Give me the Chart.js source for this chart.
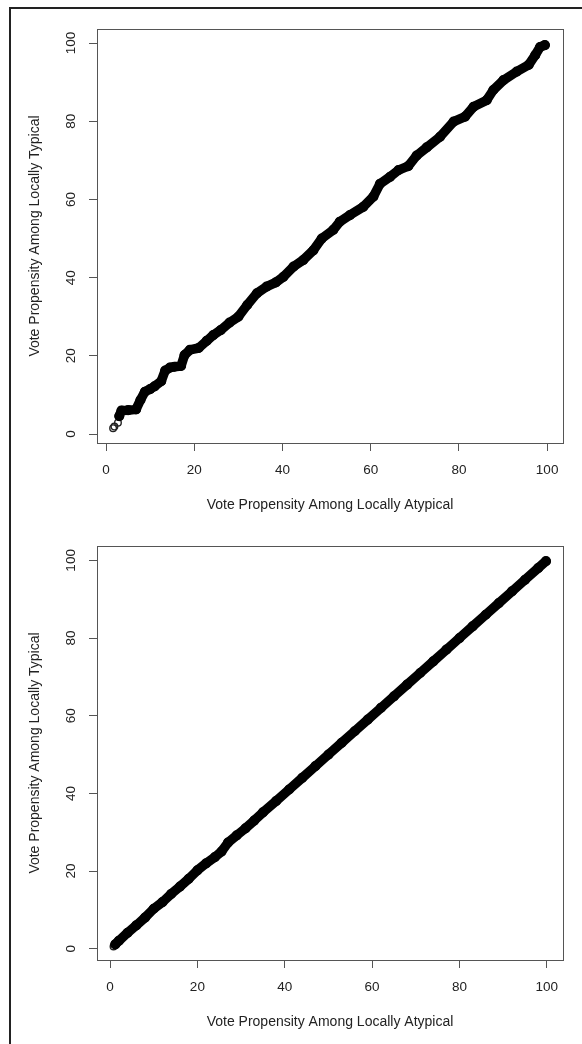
<!DOCTYPE html>
<html><head><meta charset="utf-8">
<script src="https://cdn.jsdelivr.net/npm/chart.js@4/dist/chart.umd.min.js"></script>
<style>
html,body{margin:0;padding:0;background:#fff;}
#wrap{position:relative;width:582px;height:1044px;overflow:hidden;background:#fff;}
#frame{position:absolute;left:9px;top:7px;width:700px;height:1200px;border-left:2px solid #222;border-top:2px solid #222;pointer-events:none;}
canvas{position:absolute;left:0;}
</style></head><body>
<div id="wrap">
<canvas id="c1" width="582" height="522" style="top:0"></canvas>
<canvas id="c2" width="582" height="522" style="top:522px"></canvas>
<div id="frame"></div>
</div>
<script>
// ---- data ----
const xTitle = "Vote Propensity Among Locally Atypical";
const yTitle = "Vote Propensity Among Locally Typical";
const tickValues = [0, 20, 40, 60, 80, 100];

// top panel: isolated first observations
const topStartX = [1.6, 1.9, 2.7];
const topStartY = [1.5, 1.9, 2.9];
// top panel: dense run of observations
const topX = [3.0, 3.5, 5.0, 6.8, 7.8, 8.8, 10.0, 11.0, 12.5, 13.4, 14.5, 15.5, 17.0, 17.8, 19.0, 21.0, 22.8, 24.3, 26.0, 28.0, 30.0, 32.0, 34.2, 36.4, 38.5, 40.2, 42.5, 44.7, 47.0, 48.9, 51.5, 53.0, 55.3, 58.3, 60.6, 62.1, 64.4, 66.3, 68.5, 70.4, 72.7, 75.7, 78.8, 81.4, 83.3, 86.3, 87.8, 90.1, 93.1, 95.8, 97.3, 98.4, 99.5];
const topY = [4.6, 6.0, 6.1, 6.3, 8.7, 10.8, 11.5, 12.2, 13.5, 16.2, 17.0, 17.2, 17.4, 20.2, 21.5, 22.0, 23.8, 25.3, 26.6, 28.5, 30.0, 33.0, 36.0, 37.7, 38.8, 40.2, 42.8, 44.5, 47.0, 50.0, 52.2, 54.3, 56.0, 58.1, 60.7, 64.0, 65.8, 67.5, 68.5, 71.2, 73.3, 76.0, 79.9, 81.2, 83.7, 85.4, 88.0, 90.5, 92.7, 94.4, 96.9, 99.0, 99.5];

// bottom panel
const bottomStartX = [0.8];
const bottomStartY = [0.6];
const bottomX = [1.2, 2, 4, 6, 8, 10, 12, 14, 16, 18, 20, 22, 24, 25.5, 27, 29, 31, 33, 35, 38, 41, 44, 47, 50, 53, 56, 59, 62, 65, 68, 71, 74, 77, 80, 83, 86, 89, 92, 95, 98, 99.8];
const bottomY = [1.1, 2, 4.1, 6, 8, 10.3, 12, 14.1, 16, 18, 20.2, 22, 23.6, 25, 27.3, 29.2, 31, 33, 35.1, 38, 41, 44, 47, 50, 53, 56, 59, 62, 65, 68, 71, 74, 77, 80, 83, 86, 89, 92, 95, 98, 99.8];

// ---- drawing ----
const FONT = '"Liberation Sans", Arial, Helvetica, sans-serif';
const toPts = (xs, ys) => xs.map((x, i) => ({x: x, y: ys[i]}));

const boxAndYLabels = {
  id: 'boxAndYLabels',
  afterDraw(chart) {
    const {ctx, chartArea: a, scales} = chart;
    const y = scales.y;
    ctx.save();
    ctx.strokeStyle = '#555';
    ctx.lineWidth = 1;
    ctx.strokeRect(Math.round(a.left) + 0.5, Math.round(a.top) + 0.5,
      Math.round(a.right - a.left), Math.round(a.bottom - a.top));
    ctx.fillStyle = '#222';
    ctx.font = '13.5px ' + FONT;
    ctx.textAlign = 'center';
    ctx.textBaseline = 'middle';
    y.ticks.forEach(t => {
      const py = y.getPixelForValue(t.value);
      ctx.save();
      ctx.translate(a.left - 26, py);
      ctx.rotate(-Math.PI / 2);
      ctx.fillText(String(t.value), 0, 0);
      ctx.restore();
    });
    ctx.restore();
  }
};

function makeChart(id, startPts, bandPts, lim, geo) {
  return new Chart(document.getElementById(id), {
    type: 'scatter',
    data: {
      datasets: [
        {
          data: bandPts, showLine: true,
          borderColor: '#000', borderWidth: 9.5,
          borderCapStyle: 'round', borderJoinStyle: 'round',
          pointRadius: 4.4, pointBorderWidth: 1.4,
          pointBorderColor: '#000', pointBackgroundColor: '#000',
          tension: 0
        },
        {
          data: startPts, showLine: false,
          pointRadius: 3.3, pointBorderWidth: 1.4,
          pointBorderColor: '#222', pointBackgroundColor: 'rgba(0,0,0,0)'
        }
      ]
    },
    options: {
      responsive: false, animation: false, devicePixelRatio: 1,
      events: [],
      layout: {padding: {left: 0, top: geo.top, right: geo.right, bottom: 0}},
      plugins: {legend: {display: false}, tooltip: {enabled: false}},
      scales: {
        x: {
          type: 'linear', position: 'bottom', min: lim.xmin, max: lim.xmax,
          afterBuildTicks: s => { s.ticks = tickValues.map(v => ({value: v})); },
          afterFit: s => { s.height = geo.xh; },
          grid: {drawOnChartArea: false, drawTicks: true, tickLength: 8, color: '#555', lineWidth: 1},
          border: {display: false},
          ticks: {autoSkip: false, maxRotation: 0, padding: 11, color: '#222', font: {family: FONT, size: 13.5}},
          title: {display: true, text: xTitle, color: '#222', font: {family: FONT, size: 14}, padding: {top: 0, bottom: geo.xtp}}
        },
        y: {
          type: 'linear', position: 'left', min: lim.ymin, max: lim.ymax,
          afterBuildTicks: s => { s.ticks = tickValues.map(v => ({value: v})); },
          afterFit: s => { s.width = geo.left; },
          grid: {drawOnChartArea: false, drawTicks: true, tickLength: 8, color: '#555', lineWidth: 1},
          border: {display: false},
          ticks: {display: false},
          title: {display: true, text: yTitle, color: '#222', font: {family: FONT, size: 14}, padding: {top: 26.6, bottom: 0}}
        }
      }
    },
    plugins: [boxAndYLabels]
  });
}

makeChart('c1', toPts(topStartX, topStartY), toPts(topX, topY),
  {xmin: -2.05, xmax: 103.6, ymin: -2.3, ymax: 103.6},
  {top: 29, right: 19, left: 97, xh: 79, xtp: 8.6});
makeChart('c2', toPts(bottomStartX, bottomStartY), toPts(bottomX, bottomY),
  {xmin: -2.98, xmax: 103.7, ymin: -2.9, ymax: 103.7},
  {top: 24, right: 19, left: 97, xh: 84, xtp: 13.6});
</script>
</body></html>
